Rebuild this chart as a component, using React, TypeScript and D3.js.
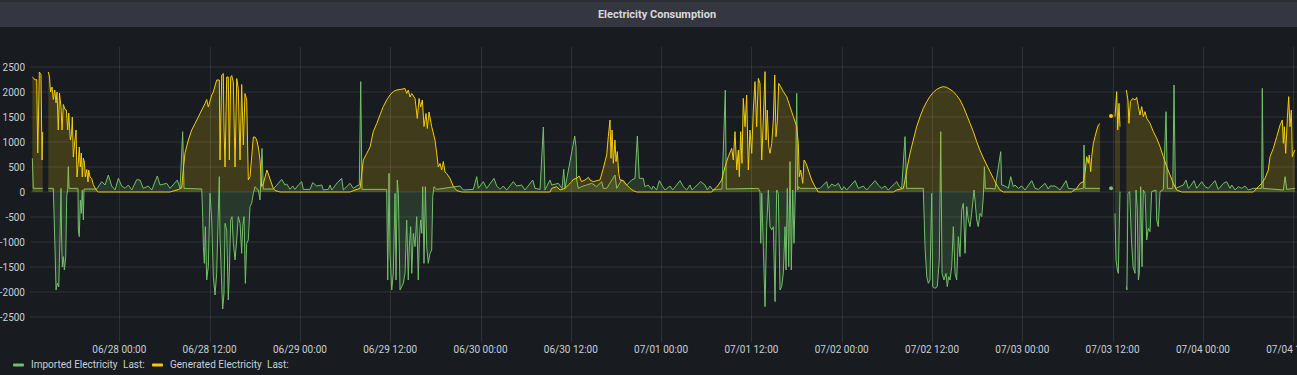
import React from "react";
import * as d3 from "d3";

// hours are counted from 06/27 12:00
const startTime = new Date(2021, 5, 27, 12, 0);
const domainHours = [0.13, 168.37];
const yDomain = [-3000, 2900];
const yTicks = [2500, 2000, 1500, 1000, 500, 0, -500, -1000, -1500, -2000, -2500];

type Pt = [number, number | null];

// Generated Electricity (W)
const generated: Pt[] = [
  [0.44, 2300], [0.6, 2280], [0.8, 2240], [1.02, 2250], [1.16, 780], [1.26, 1500], [1.37, 2400], [1.59, 2350], [1.73, 640], [1.82, 1200], [2.1, null],
  [2.56, 2400], [2.72, 2300], [2.86, 2000], [3.06, 2100], [3.23, 1850], [3.42, 2040], [3.59, 1780], [3.72, 2000], [3.89, 1240], [4.05, 1980], [4.25, 1700], [4.39, 1240], [4.56, 1750], [4.78, 1650], [4.96, 1640], [5.14, 1240], [5.28, 1580], [5.49, 1040], [5.65, 1150], [5.75, 1500], [5.89, 700], [6.07, 1000], [6.25, 1240], [6.38, 300], [6.55, 600], [6.68, 900], [6.82, 500], [6.95, 780], [7.08, 300], [7.22, 680], [7.35, 600], [7.48, 300], [7.67, 450], [7.84, 200], [7.93, 440], [8.11, 300], [8.33, 270], [8.54, 150], [8.77, 80], [9.04, 20], [9.21, 0],
  [18.74, 0], [19.18, 20], [19.84, 50], [20.29, 80],
  [20.5, 440], [20.73, 780], [21.17, 1040], [21.62, 1240], [22.06, 1370], [22.5, 1500], [22.95, 1640], [23.39, 1770], [23.61, 1850], [23.83, 1700], [24.28, 1940], [24.49, 2000], [24.94, 2240], [25.29, 2240], [25.38, 640], [25.61, 2340], [25.82, 2370], [25.91, 1300], [26.05, 500], [26.27, 2300], [26.48, 2300], [26.62, 640], [26.8, 2300], [26.94, 2330], [27.15, 2200], [27.38, 500], [27.6, 2270], [27.81, 2070], [28.04, 640], [28.26, 2150], [28.48, 940], [28.7, 1970], [28.93, 1840], [29.14, 240], [29.37, 310], [29.81, 1100], [30.03, 1100], [30.26, 1040], [30.47, 900], [30.7, 640], [30.92, 110], [31.14, 170], [31.62, 440], [32.07, 240], [32.47, 70], [32.69, 30], [33.36, 0],
  [42.66, 0], [43.32, 40], [43.99, 70], [44.43, 640], [44.88, 770], [45.32, 900], [45.75, 1210], [46.21, 1370], [46.64, 1540], [47.08, 1710], [47.53, 1840], [47.97, 1940], [48.41, 2010], [48.86, 2040], [49.3, 2050], [49.97, 2070], [50.19, 1970], [50.4, 2040], [50.63, 1900], [50.86, 1970], [51.3, 1870], [51.6, 1470], [51.83, 1870], [52.05, 1700], [52.27, 1840], [52.49, 1310], [52.76, 1570], [52.93, 1270], [53.16, 1600], [53.51, 1310], [53.95, 1040], [54.18, 770], [54.39, 500], [54.62, 570], [54.84, 440], [55.06, 610], [55.28, 400], [55.51, 370], [55.95, 270], [56.39, 110], [56.84, 30], [57.5, 0],
  [68.57, 0], [69.23, 0], [69.46, 73], [70.13, 107], [70.57, 40], [71.23, 73], [71.67, 140], [72.12, 207], [72.33, 253], [72.76, 273], [73.11, 320], [73.42, 207], [73.89, 240], [74.33, 293], [74.55, 240], [74.99, 207], [75.44, 227], [75.87, 240], [76.32, 473], [76.54, 607], [76.77, 740], [76.98, 1107], [77.21, 1440], [77.34, 673], [77.48, 1240], [77.65, 573], [77.87, 1040], [78.01, 607], [78.18, 807], [78.36, 373], [78.54, 240], [78.98, 230], [79.43, 140], [79.87, 73], [80.31, 27], [80.76, 0],
  [90.72, 0], [90.94, 40], [91.39, 100], [91.6, 140], [92.05, 240], [92.27, 373], [92.49, 507], [92.93, 707], [93.38, 873], [93.59, 640], [93.82, 1207], [94.05, 440], [94.26, 840], [94.39, 307], [94.58, 1207], [94.75, 573], [94.92, 1873], [95.15, 1307], [95.37, 1940], [95.59, 440], [95.81, 1240], [96.04, 773], [96.25, 1640], [96.48, 2207], [96.7, 1307], [96.92, 2273], [97.14, 2173], [97.37, 640], [97.58, 1440], [97.81, 2407], [97.94, 1040], [98.11, 1640], [98.3, 907], [98.47, 773], [98.7, 973], [98.91, 1440], [99.1, 2340], [99.27, 1107], [99.44, 1407], [99.63, 2173], [99.89, 2107], [100.24, 2007], [100.69, 1907], [101.13, 1707], [101.57, 1507], [102.02, 1307], [102.23, 973], [102.36, 307], [102.55, 440], [102.82, 173], [102.99, 640], [103.26, 573], [103.56, 440], [104.01, 240], [104.45, 107], [104.89, 0],
  [114.86, 0], [115.31, 40], [116.19, 73], [116.41, 240], [116.64, 440], [117.07, 773], [117.51, 1040], [117.96, 1307], [118.41, 1507], [118.84, 1673], [119.3, 1807], [119.73, 1913], [120.17, 1993], [120.62, 2053], [121.06, 2087], [121.5, 2107], [121.95, 2093], [122.39, 2053], [122.83, 2007], [123.28, 1933], [123.72, 1840], [124.16, 1707], [124.61, 1540], [125.05, 1373], [125.49, 1207], [125.94, 1007], [126.38, 830], [126.82, 680], [127.27, 540], [127.71, 407], [128.15, 273], [128.6, 140], [129.04, 40], [129.48, 0],
  [138.55, 0], [139.22, 73], [139.67, 173], [140.11, 207], [140.33, 373], [140.56, 707], [140.77, 573], [140.9, 740], [141.09, 407], [141.22, 707], [141.44, 973], [141.66, 1107], [141.89, 1240], [142.1, 1340], [142.33, 1373], [142.86, null],
  [143.79, 1520], [144.05, null],
  [144.32, 1507], [144.54, 2007], [144.68, 1240], [144.85, 1773], [144.98, 1307], [145.3, null],
  [145.82, 2040], [146.04, 1840], [146.17, 1373], [146.36, 1807], [146.67, 1873], [146.98, 1840], [147.2, 1893], [147.42, 1707], [147.64, 1540], [147.87, 1707], [148.08, 1507], [148.31, 1607], [148.53, 1473], [148.97, 1373], [149.41, 1207], [149.86, 1073], [150.3, 907], [150.74, 707], [151.19, 507], [151.63, 340], [152.07, 173], [152.52, 40], [153.18, 0],
  [162.7, 0], [163.36, 107], [163.81, 173], [164.25, 273], [164.69, 440], [164.92, 707], [165.36, 873], [165.81, 1107], [166.25, 1340], [166.55, 1440], [166.69, 973], [166.82, 1307], [167.0, 773], [167.22, 1473], [167.4, 1907], [167.57, 1307], [167.75, 1640], [167.88, 707], [168.01, 773], [168.24, 840],
];

// Imported Electricity (W), negative = exported
const imported: Pt[] = [
  [0.44, 673], [0.57, 73], [1.82, 73], [2.1, null],
  [2.56, 73], [3.23, 73], [3.46, -1160], [3.59, -1960], [3.76, -1827], [3.95, -1900], [4.03, -1427], [4.12, -893], [4.25, 73], [4.34, -1027], [4.42, -1500], [4.56, -1293], [4.7, -1560], [4.88, -1293], [5.01, -93], [5.14, 73], [5.22, 507], [5.32, 73], [6.51, 73], [6.55, -760], [6.68, -893], [6.82, -160], [6.95, -427], [7.08, 40], [7.22, -560], [7.31, 60],
  [9.0, 60], [9.66, 207], [10.1, 140], [10.54, 340], [10.99, 120], [11.43, 40], [11.87, 273], [12.32, 120], [12.76, 73], [13.2, 140], [13.65, 40], [14.31, 247], [14.75, 240], [15.19, 73], [15.85, 120], [16.31, 40], [17.05, 320], [17.41, 140], [18.3, 173], [18.74, 73], [19.71, 240], [20.07, 73], [20.42, 1207], [20.6, 73], [22.95, 60],
  [23.08, -493], [23.17, -1093], [23.3, -1427], [23.43, -693], [23.61, -1760], [23.83, -1493], [24.05, -27], [24.28, -560], [24.49, -1693], [24.72, -2060], [24.94, -1627], [25.16, -360], [25.29, 307], [25.38, -893], [25.61, -1893], [25.74, -2340], [25.91, -2027], [26.05, -627], [26.27, -760], [26.48, -2160], [26.62, -1627], [26.8, -560], [26.98, -493], [27.15, -1027], [27.38, -1360], [27.6, -960], [27.81, -493], [28.04, -627], [28.26, -1227], [28.4, -693], [28.57, -493], [28.75, -1827], [28.93, -1027], [29.14, -960], [29.37, -293], [29.59, -227], [29.81, -27], [30.03, 107], [30.47, 40], [30.7, -160], [30.96, 870], [31.14, 60],
  [32.47, 60], [33.58, 253], [34.02, 140], [34.25, 160], [34.68, 53], [35.04, 120], [35.35, 53], [35.79, 140], [36.24, 207], [36.45, 53], [37.34, 53], [37.7, 187], [38.23, 120], [38.9, 140], [39.11, 40], [39.77, 53], [40.0, 140], [40.23, 40], [40.97, 187], [41.55, 273], [41.77, 40], [42.66, 173], [43.1, 73], [43.55, 120], [43.89, 140], [44.08, 2207], [44.25, 53], [47.53, 53],
  [47.67, -1760], [47.84, 373], [47.97, -1227], [48.2, -1960], [48.41, -1627], [48.64, -27], [48.77, -1760], [48.94, 240], [49.08, -27], [49.3, -1960], [49.53, -1893], [49.74, -1827], [49.97, -1627], [50.19, -560], [50.4, -1760], [50.54, -1093], [50.72, -693], [50.86, -1627], [51.07, -827], [51.3, -1093], [51.52, -493], [51.73, -1760], [51.87, -960], [52.05, -560], [52.19, -827], [52.32, 107], [52.49, -1427], [52.67, 107], [52.85, -1093], [53.06, -1427], [53.29, -1227], [53.51, -1160], [53.65, -93], [53.82, 107], [54.18, 53],
  [56.61, 107], [57.28, 120], [57.71, 40], [59.04, 53], [59.5, 307], [59.71, 73], [60.37, 207], [60.82, 73], [61.79, 273], [62.15, 120], [62.59, 53], [63.03, 120], [63.48, 40], [64.36, 207], [64.81, 120], [65.47, 140], [65.91, 40], [66.94, 240], [67.24, 73], [67.91, 53], [68.35, 1300], [68.57, 40],
  [69.23, 240], [69.46, 140], [70.34, 173], [70.83, 73], [71.06, 453], [71.23, 73], [72.52, 1120], [72.69, 907], [72.78, 240], [73.0, 73], [73.42, 107], [74.09, 140], [74.78, 173], [75.44, 107], [76.11, 207], [76.32, 73], [76.77, 73], [77.87, 340], [78.1, 73], [78.76, 240], [79.43, 140], [80.09, 240], [80.53, 273], [80.84, 1120], [81.1, 273], [81.63, 273],
  [81.84, 107], [82.28, 140], [82.75, 53], [82.95, 120], [83.4, 40], [83.77, 227], [84.21, 107], [84.52, 40], [85.18, 120], [85.54, 40], [86.51, 227], [86.95, 107], [87.4, 40], [87.84, 140], [88.11, 40], [89.26, 207], [89.83, 140], [90.14, 40], [90.5, 120], [90.86, 40],
  [91.39, 53], [92.09, 60], [92.53, 2040], [92.66, 60], [96.92, 73], [97.14, 7], [97.24, -1027], [97.37, -27], [97.58, -1093], [97.81, -2293], [98.03, -693], [98.25, 40], [98.47, -693], [98.7, -760], [98.91, -693], [99.14, -2193], [99.36, 40], [99.57, -27], [99.8, -1960], [100.02, -1893], [100.24, -1627], [100.47, -693], [100.6, -1560], [100.77, 73], [100.96, -1493], [101.13, 607], [101.3, -1560], [101.49, 40], [101.66, -1027], [101.84, 40], [102.02, 1973], [102.15, 40], [102.28, 107], [102.46, 73],
  [105.12, 73], [105.56, 140], [106.0, 207], [106.22, 73], [106.67, 160], [107.11, 120], [107.55, 173], [108.0, 40], [108.31, 107], [108.66, 40], [109.77, 227], [110.21, 73], [110.87, 120], [111.32, 40], [112.43, 227], [112.86, 140], [113.31, 73], [113.75, 120], [114.19, 40], [115.31, 207], [115.65, 107], [115.97, 73],
  [116.41, 1107], [116.64, 73], [118.84, 73], [119.07, -1093], [119.3, -1693], [119.51, -1827], [119.73, -1760], [119.96, -27], [120.09, -1893], [120.4, -1927], [120.7, -1893], [120.97, -1360], [121.16, 1207], [121.33, -1627], [121.59, -1760], [121.86, -1627], [122.03, -1893], [122.22, -1693], [122.39, -1760], [122.62, -1493], [122.83, -693], [123.06, -1627], [123.28, -1760], [123.5, -893], [123.72, -1293], [123.95, -360], [124.16, -227], [124.39, -1227], [124.61, -293], [124.82, -560], [125.05, -693], [125.27, -427], [125.49, -93], [125.58, 40], [125.71, -160], [125.94, -560], [126.15, -693], [126.38, -427], [126.61, -493], [126.82, -93], [126.96, 507], [127.09, 73],
  [127.71, 73], [128.37, 60], [129.13, 807], [129.26, 140], [129.7, 120], [130.14, 73], [130.46, 307], [130.8, 107], [131.03, 140], [131.47, 73], [131.92, 120], [132.36, 40], [133.25, 227], [133.69, 73], [134.13, 53], [135.02, 173], [135.46, 60], [135.68, 120], [136.35, 120], [137.01, 40], [137.45, 140], [137.81, 227], [138.11, 73],
  [139.22, 53], [140.11, 73], [140.2, 940], [140.33, 73], [142.33, 73], [142.86, null],
  [143.79, 73], [144.05, null],
  [144.32, -427], [144.45, -1360], [144.63, -1560], [144.76, -1627], [144.98, 7], [145.3, null],
  [145.82, -1893], [145.9, -1960], [146.04, -27], [146.27, 7], [146.5, -960], [146.72, -1493], [146.98, -1627], [147.11, 40], [147.28, -360], [147.42, -1760], [147.55, -1627], [147.73, 107], [147.91, -1493], [148.08, 40], [148.31, -27], [148.53, -960], [148.74, -727], [148.97, -793], [149.19, 7], [149.76, 40], [149.86, -560], [150.07, -693], [150.3, 7], [150.74, 53], [151.1, 1607], [151.28, 73], [151.99, 73], [152.16, 2140], [152.34, 73],
  [153.4, 140], [153.75, 240], [154.06, 73], [154.29, 107], [154.82, 227], [155.17, 73], [155.84, 207], [156.28, 107], [156.72, 73], [157.61, 227], [158.05, 53], [158.72, 173], [159.16, 207], [159.6, 73], [159.83, 140], [160.27, 40], [160.7, 107], [161.15, 73], [161.59, 120], [162.03, 40], [162.7, 73], [163.81, 73], [163.89, 2073], [164.02, 73], [166.69, 40], [166.92, 307], [167.14, 53], [168.24, 73],
];

const legendItems = [
  { name: "Imported Electricity", color: "#73bf69" },
  { name: "Generated Electricity", color: "#f2cc0c" },
];

const W = 1297;
const H = 375;
const plot = { left: 30, right: 1296, top: 47, bottom: 342 };
const textColor = "#c7d0d9";
const gridColor = "rgba(255,255,255,0.1)";
const font = "Roboto, 'Helvetica Neue', Arial, sans-serif";

const toDate = (h: number) => new Date(startTime.getTime() + h * 3600 * 1000);

const App: React.FC = () => {
  const x = d3
    .scaleTime()
    .domain([toDate(domainHours[0]), toDate(domainHours[1])])
    .range([plot.left, plot.right]);
  const y = d3.scaleLinear().domain(yDomain).range([plot.bottom, plot.top]);

  const xTicks = x.ticks(d3.timeHour.every(12)!).filter((d) => x(d) > plot.left + 5);
  const fmt = d3.timeFormat("%m/%d %H:%M");

  const line = d3
    .line<Pt>()
    .defined((d) => d[1] !== null)
    .x((d) => x(toDate(d[0])))
    .y((d) => y(d[1] as number));
  const area = d3
    .area<Pt>()
    .defined((d) => d[1] !== null)
    .x((d) => x(toDate(d[0])))
    .y0(y(0))
    .y1((d) => y(d[1] as number));

  // points with no defined neighbours are drawn as dots
  const lonely = (pts: Pt[]) =>
    pts.filter((d, i) => {
      if (d[1] === null) return false;
      const prev = pts[i - 1];
      const next = pts[i + 1];
      return (!prev || prev[1] === null) && (!next || next[1] === null);
    });

  const series = [
    { pts: imported, color: legendItems[0].color },
    { pts: generated, color: legendItems[1].color },
  ];

  return (
    <svg
      width={W}
      height={H}
      style={{ position: "absolute", left: 0, top: 0, display: "block" }}
      fontFamily={font}
    >
      <rect x={0} y={0} width={W} height={H} fill="#181b1f" />
      {/* panel header */}
      <rect x={0} y={0} width={W} height={27} fill="#34373f" />
      <rect x={0} y={0} width={W} height={2} fill="#2a2d33" />
      <text x={657} y={18} textAnchor="middle" fill="#d8d9da" fontSize={11} fontWeight="bold">
        Electricity Consumption
      </text>

      {/* grid */}
      {yTicks.map((t) => (
        <line key={"gy" + t} x1={plot.left} x2={W} y1={y(t)} y2={y(t)} stroke={gridColor} />
      ))}
      {xTicks.map((t) => (
        <line
          key={"gx" + t.getTime()}
          x1={Math.round(x(t)) + 0.5}
          x2={Math.round(x(t)) + 0.5}
          y1={plot.top}
          y2={plot.bottom}
          stroke={gridColor}
        />
      ))}

      {/* y labels */}
      {yTicks.map((t) => (
        <text
          key={"ly" + t}
          x={25}
          y={y(t)}
          dy="0.35em"
          textAnchor="end"
          fill={textColor}
          fontSize={10}
        >
          {t}
        </text>
      ))}
      {/* x labels */}
      {xTicks.map((t) => (
        <text
          key={"lx" + t.getTime()}
          x={x(t)}
          y={353}
          textAnchor="middle"
          fill={textColor}
          fontSize={10}
        >
          {fmt(t)}
        </text>
      ))}

      <defs>
        <clipPath id="plotclip">
          <rect x={plot.left} y={plot.top} width={plot.right - plot.left} height={plot.bottom - plot.top} />
        </clipPath>
      </defs>
      <g clipPath="url(#plotclip)">
        {series.map((s, i) => (
          <g key={"s" + i}>
            <path d={area(s.pts) || ""} fill={s.color} fillOpacity={0.18} />
            <path d={line(s.pts) || ""} fill="none" stroke={s.color} strokeWidth={1} />
            {lonely(s.pts).map((d, j) => (
              <circle
                key={j}
                cx={x(toDate(d[0]))}
                cy={y(d[1] as number)}
                r={2}
                fill={s.color}
              />
            ))}
          </g>
        ))}
      </g>

      {/* legend */}
      <g fontSize={10} fill={textColor}>
        <rect x={13} y={363.5} width={11} height={3} rx={1} fill={legendItems[0].color} />
        <text x={31} y={368}>{legendItems[0].name}</text>
        <text x={123} y={368}>Last:</text>
        <rect x={152} y={363.5} width={11} height={3} rx={1} fill={legendItems[1].color} />
        <text x={170} y={368}>{legendItems[1].name}</text>
        <text x={267} y={368}>Last:</text>
      </g>
    </svg>
  );
};

export default App;
